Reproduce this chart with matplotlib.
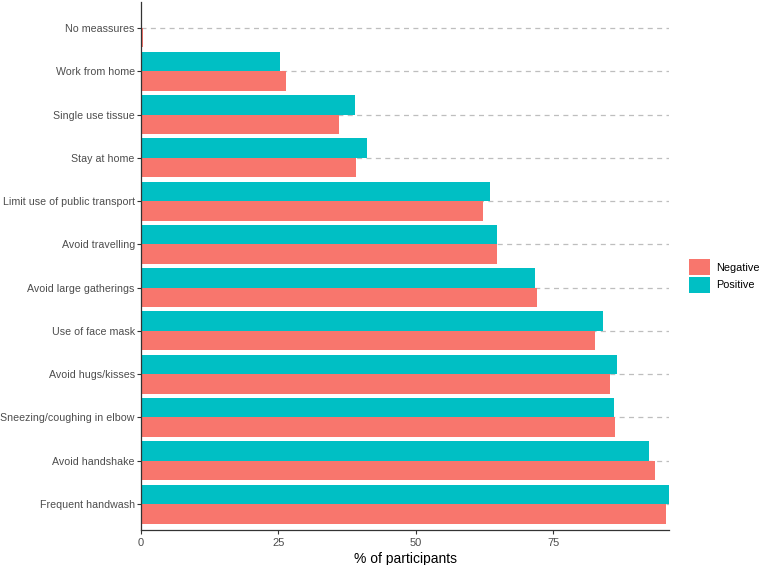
import matplotlib
matplotlib.use("Agg")
import matplotlib.pyplot as plt
import numpy as np

categories = ["No meassures", "Work from home", "Single use tissue", "Stay at home",
              "Limit use of public transport", "Avoid travelling", "Avoid large gatherings",
              "Use of face mask", "Avoid hugs/kisses", "Sneezing/coughing in elbow",
              "Avoid handshake", "Frequent handwash"]
positive = [0.25, 25.3, 38.9, 41.1, 63.5, 64.8, 71.8, 84.0, 86.7, 86.0, 92.5, 96.1]
negative = [0.4, 26.4, 36.1, 39.2, 62.2, 64.8, 72.1, 82.6, 85.3, 86.3, 93.5, 95.5]
x_ticks = [0, 25, 50, 75]

plt.rcParams['font.family'] = ['Liberation Sans', 'DejaVu Sans']

fig = plt.figure(figsize=(7.6, 5.65), dpi=100)
W, H = 760, 565
ax = fig.add_axes([141 / W, 1 - 530 / H, (669 - 141) / W, (530 - 2) / H])

n = len(categories)
y = np.arange(n)
bh = 0.45
for yi in y:
    ax.axhline(yi, color='#BEBEBE', lw=0.9, ls=(0, (4, 3.5)), zorder=0)
ax.barh(y - bh / 2, positive, height=bh, color='#00BFC4', label='Positive', zorder=2)
ax.barh(y + bh / 2, negative, height=bh, color='#F8766D', label='Negative', zorder=2)

ax.set_ylim(n - 1 + 0.6, -0.6)
ax.set_xlim(0, max(max(positive), max(negative)))
ax.set_yticks(y)
ax.set_yticklabels(categories)
ax.set_xticks(x_ticks)
ax.set_xticklabels([str(t) for t in x_ticks])
ax.tick_params(axis='both', colors='#333333', labelcolor='#4D4D4D', labelsize=7.7,
               length=3, width=0.8)
ax.tick_params(axis='y', pad=1.5)
ax.tick_params(axis='x', pad=2.5, labelsize=8)
for s in ['top', 'right']:
    ax.spines[s].set_visible(False)
for s in ['left', 'bottom']:
    ax.spines[s].set_color('#333333')
    ax.spines[s].set_linewidth(0.9)
ax.set_xlabel('% of participants', fontsize=10, color='black', labelpad=3)

handles, labels = ax.get_legend_handles_labels()
order = [1, 0]
leg = fig.legend([handles[i] for i in order], [labels[i] for i in order],
                 loc='center left', bbox_to_anchor=(689 / W, 1 - 276 / H),
                 frameon=False, fontsize=7.8, handlelength=1.9, handleheight=1.9,
                 handletextpad=0.6, labelspacing=0.15, borderaxespad=0, borderpad=0)

fig.savefig('out.png', dpi=100)
